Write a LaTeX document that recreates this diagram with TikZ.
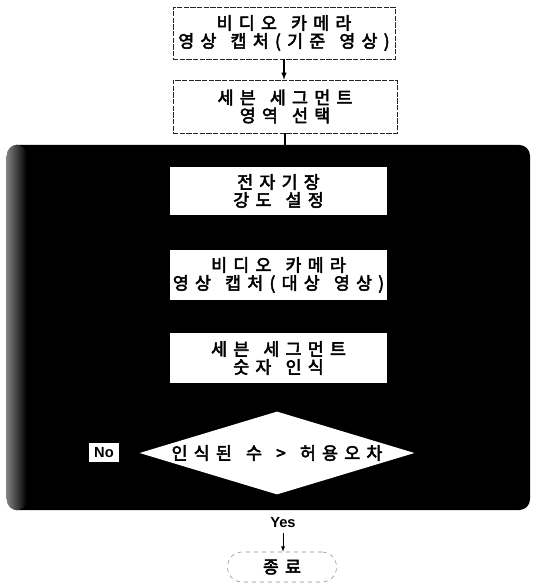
\documentclass[tikz,border=0pt]{standalone}
\usepackage{fontspec}
\setmainfont{Noto Sans CJK KR}[LetterSpace=36,WordSpace=1.4,FakeBold=3]
\newfontfamily\latinfont{Liberation Sans}
\usetikzlibrary{shapes.geometric}
\begin{document}
\begin{tikzpicture}[x=0.75pt,y=-0.75pt,>=latex,
  font=\fontsize{13}{13.5}\selectfont,
  stepbox/.style={draw=black!85,line width=0.5pt,dash pattern=on 4pt off 1pt,fill=white,align=center,inner sep=0pt},
  innerbox/.style={fill=white,align=center,inner sep=0pt,minimum width=162.75pt,minimum height=37.5pt},
  decision/.style={diamond,fill=white,inner sep=0pt,minimum width=206.25pt,minimum height=62.25pt}]
\useasboundingbox (0,0) rectangle (534,584);

\node[stepbox,minimum width=166.5pt,minimum height=39pt] (capref) at (284,33) {비디오 카메라\\영상 캡처(기준 영상)};
\node[stepbox,minimum width=168pt,minimum height=39.75pt] (segsel) at (285,106.5) {세븐 세그먼트\\영역 선택};

\node[fill=black,rounded corners=8pt,minimum width=392.25pt,minimum height=273.75pt] (loop) at (268.5,327.5) {};
\shade[left color=black!50,right color=black,rounded corners=8pt] (loop.north west) rectangle ([xshift=15pt]loop.south west);
\node[innerbox,minimum height=36pt] (field) at (278.5,191) {전자기장\\강도 설정};
\node[innerbox] (captgt) at (278.5,275) {비디오 카메라\\영상 캡처(대상 영상)};
\node[innerbox] (digits) at (278.5,358) {세븐 세그먼트\\숫자 인식};
\node[decision,label={center:인식된 수 > 허용오차}] (check) at (277,453) {};
\node[fill=white,inner sep=0pt,minimum width=22.5pt,minimum height=14.25pt,font=\latinfont\fontsize{11}{12}\selectfont\bfseries] (no) at (104,452.5) {No};

\node[font=\latinfont\fontsize{11}{12}\selectfont\bfseries] (yes) at (283,523) {Yes};
\node[draw=black!45,dashed,line width=0.4pt,rounded corners=11pt,minimum width=81.75pt,minimum height=22.5pt] (stop) at (282,567) {종료};

\draw[->,thick] (capref) -- (capref |- segsel.north);
\draw[thick] (segsel.south) -- (segsel.south |- loop.north);
\draw[->] (yes) -- (yes |- stop.north);
\end{tikzpicture}
\end{document}
